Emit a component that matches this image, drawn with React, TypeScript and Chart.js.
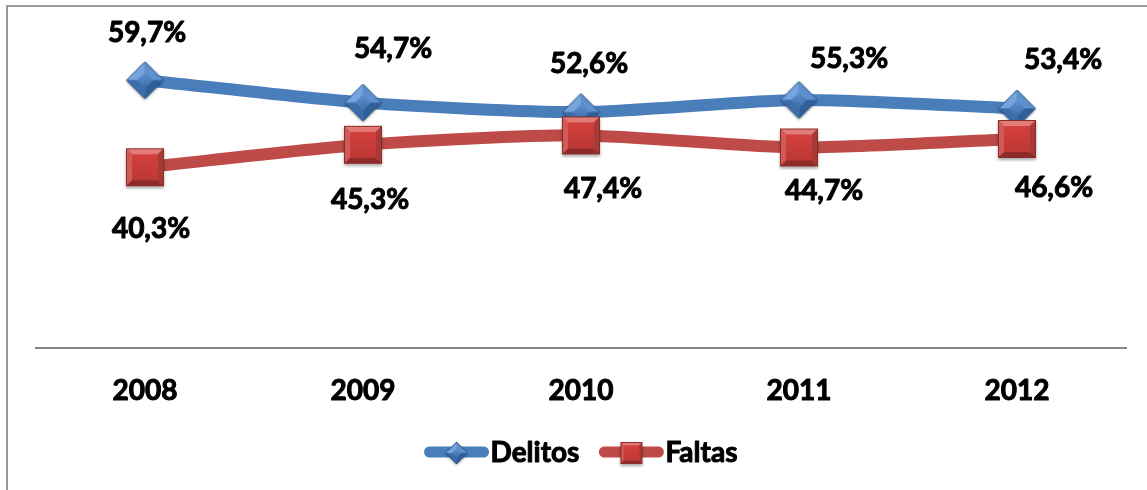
import React, { useEffect, useRef } from 'react';
import { Chart, registerables } from 'chart.js';

Chart.register(...registerables);

const categories = ['2008', '2009', '2010', '2011', '2012'];
const delitos = [59.7, 54.7, 52.6, 55.3, 53.4];
const faltas = [40.3, 45.3, 47.4, 44.7, 46.6];
const seriesNames = ['Delitos', 'Faltas'];
const yMin = 0;
const yMax = 70;

// label placement (pixel offsets from the point, styling only)
const delitosLabelOffsets = [[2, -48], [30, -55], [8, -49], [50, -42], [46, -50]];
const faltasLabelOffsets = [[6, 61], [7, 54], [22, 53], [25, 42], [37, 48]];

const BLUE_LINE = '#4A7EBB';
const RED_LINE = '#BE4B48';
const FONT = 'Lato, "Open Sans", sans-serif';
const FONT_SIZE = 28;
const TEXT_STROKE = 1;

function fmt(v: number) {
  return v.toFixed(1).replace('.', ',') + '%';
}

function boldText(ctx: CanvasRenderingContext2D, text: string, x: number, y: number) {
  ctx.lineWidth = TEXT_STROKE;
  ctx.lineJoin = 'round';
  ctx.strokeStyle = '#000';
  ctx.fillStyle = '#000';
  ctx.strokeText(text, x, y);
  ctx.fillText(text, x, y);
}

function poly(ctx: CanvasRenderingContext2D, pts: number[][], fill: string | CanvasGradient) {
  ctx.beginPath();
  ctx.moveTo(pts[0][0], pts[0][1]);
  for (let i = 1; i < pts.length; i++) ctx.lineTo(pts[i][0], pts[i][1]);
  ctx.closePath();
  ctx.fillStyle = fill;
  ctx.fill();
}

function makeDiamond(r: number): HTMLCanvasElement {
  const pad = 4;
  const size = Math.ceil(2 * r + 2 * pad);
  const c = document.createElement('canvas');
  c.width = size;
  c.height = size;
  const ctx = c.getContext('2d')!;
  const cx = size / 2, cy = size / 2;
  const T = [cx, cy - r], R = [cx + r, cy], B = [cx, cy + r], L = [cx - r, cy];
  ctx.save();
  ctx.shadowColor = 'rgba(0,0,0,0.35)';
  ctx.shadowBlur = 3;
  ctx.shadowOffsetY = 1.5;
  poly(ctx, [T, R, B, L], '#4F81BD');
  ctx.restore();
  const ir = r * 0.42;
  const t = [cx, cy - ir], rr = [cx + ir, cy], b = [cx, cy + ir], l = [cx - ir, cy];
  poly(ctx, [L, T, t, l], '#76A4DC');
  poly(ctx, [T, R, rr, t], '#5E90CE');
  poly(ctx, [R, B, b, rr], '#2F5E98');
  poly(ctx, [B, L, l, b], '#3D6DA9');
  const g = ctx.createLinearGradient(0, cy - ir, 0, cy + ir);
  g.addColorStop(0, '#5F91D0');
  g.addColorStop(1, '#3E6FAD');
  poly(ctx, [t, rr, b, l], g);
  ctx.beginPath();
  ctx.moveTo(T[0], T[1]); ctx.lineTo(R[0], R[1]); ctx.lineTo(B[0], B[1]); ctx.lineTo(L[0], L[1]); ctx.closePath();
  ctx.strokeStyle = '#2B5283';
  ctx.lineWidth = 1;
  ctx.stroke();
  return c;
}

function makeSquare(s: number): HTMLCanvasElement {
  const pad = 4;
  const size = Math.ceil(s + 2 * pad);
  const c = document.createElement('canvas');
  c.width = size;
  c.height = size;
  const ctx = c.getContext('2d')!;
  const x0 = (size - s) / 2, y0 = (size - s) / 2, x1 = x0 + s, y1 = y0 + s;
  ctx.save();
  ctx.shadowColor = 'rgba(0,0,0,0.35)';
  ctx.shadowBlur = 3;
  ctx.shadowOffsetY = 2;
  poly(ctx, [[x0, y0], [x1, y0], [x1, y1], [x0, y1]], '#C0504D');
  ctx.restore();
  const bv = s * 0.16;
  const ix0 = x0 + bv, iy0 = y0 + bv, ix1 = x1 - bv, iy1 = y1 - bv;
  poly(ctx, [[x0, y0], [x1, y0], [ix1, iy0], [ix0, iy0]], '#E27C79');
  poly(ctx, [[x0, y0], [ix0, iy0], [ix0, iy1], [x0, y1]], '#D15956');
  poly(ctx, [[x1, y0], [x1, y1], [ix1, iy1], [ix1, iy0]], '#A83936');
  poly(ctx, [[x0, y1], [ix0, iy1], [ix1, iy1], [x1, y1]], '#8E2B29');
  const g = ctx.createLinearGradient(0, iy0, 0, iy1);
  g.addColorStop(0, '#D4403D');
  g.addColorStop(1, '#BC3835');
  poly(ctx, [[ix0, iy0], [ix1, iy0], [ix1, iy1], [ix0, iy1]], g);
  ctx.strokeStyle = '#8A2C29';
  ctx.lineWidth = 1;
  ctx.strokeRect(x0 + 0.5, y0 + 0.5, s - 1, s - 1);
  return c;
}

export default function App() {
  const ref = useRef<HTMLCanvasElement>(null);

  useEffect(() => {
    const canvas = ref.current;
    if (!canvas) return;
    const diamondBig = makeDiamond(18.5);
    const squareBig = makeSquare(38);
    const diamondSmall = makeDiamond(11);
    const squareSmall = makeSquare(22);

    const labelPlugin = {
      id: 'pointLabels',
      afterDatasetsDraw(chart: any) {
        const ctx = chart.ctx;
        ctx.save();
        ctx.font = `bold ${FONT_SIZE}px ${FONT}`;
        ctx.textAlign = 'center';
        ctx.textBaseline = 'alphabetic';
        const sets = [
          { data: delitos, off: delitosLabelOffsets, idx: 0 },
          { data: faltas, off: faltasLabelOffsets, idx: 1 },
        ];
        sets.forEach((s) => {
          const meta = chart.getDatasetMeta(s.idx);
          meta.data.forEach((pt: any, i: number) => {
            const [dx, dy] = s.off[i];
            boldText(ctx, fmt(s.data[i]), pt.x + dx, pt.y + dy + FONT_SIZE * 0.36);
          });
        });
        // category labels, placed on the category scale
        const xs = chart.scales.x;
        categories.forEach((c, i) => {
          boldText(ctx, c, xs.getPixelForTick(i), xs.top + 52);
        });
        ctx.restore();
      },
    };

    const legendPlugin = {
      id: 'excelLegend',
      afterDraw(chart: any) {
        const ctx = chart.ctx;
        const area = chart.chartArea;
        ctx.save();
        ctx.font = `bold ${FONT_SIZE}px ${FONT}`;
        const lineLen = 64;
        const gap = 20;
        const items = [
          { text: seriesNames[0], color: BLUE_LINE, img: diamondSmall },
          { text: seriesNames[1], color: RED_LINE, img: squareSmall },
        ];
        const widths = items.map((it) => lineLen + 2 + ctx.measureText(it.text).width);
        const total = widths.reduce((a, b) => a + b, 0) + gap * (items.length - 1);
        let x = (area.left + area.right) / 2 - total / 2;
        const y = 452;
        items.forEach((it, i) => {
          ctx.strokeStyle = it.color;
          ctx.lineWidth = 11;
          ctx.lineCap = 'round';
          ctx.beginPath();
          ctx.moveTo(x + 5, y);
          ctx.lineTo(x + lineLen - 5, y);
          ctx.stroke();
          ctx.drawImage(it.img, x + lineLen / 2 - it.img.width / 2, y - it.img.height / 2 + 1);
          ctx.textAlign = 'left';
          ctx.textBaseline = 'alphabetic';
          boldText(ctx, it.text, x + lineLen + 2, y + FONT_SIZE * 0.36);
          x += widths[i] + gap;
        });
        ctx.restore();
      },
    };

    const chart = new Chart(canvas, {
      type: 'line',
      data: {
        labels: categories,
        datasets: [
          {
            label: seriesNames[0],
            data: delitos,
            borderColor: BLUE_LINE,
            backgroundColor: BLUE_LINE,
            borderWidth: 12,
            tension: 0.25,
            borderCapStyle: 'round',
            borderJoinStyle: 'round',
            pointStyle: diamondBig as any,
            pointRadius: 19,
            order: 1,
            clip: false as any,
          },
          {
            label: seriesNames[1],
            data: faltas,
            borderColor: RED_LINE,
            backgroundColor: RED_LINE,
            borderWidth: 12,
            tension: 0.25,
            borderCapStyle: 'round',
            borderJoinStyle: 'round',
            pointStyle: squareBig as any,
            pointRadius: 19,
            order: 0,
            clip: false as any,
          },
        ],
      },
      options: {
        responsive: false,
        animation: false,
        layout: { autoPadding: false, padding: { left: 36, right: 21, top: 34, bottom: 0 } },
        plugins: { legend: { display: false }, tooltip: { enabled: false }, title: { display: false } },
        scales: {
          x: {
            offset: true,
            grid: { display: false, drawTicks: false },
            border: { display: true, color: '#868686', width: 2 },
            ticks: { display: false },
            afterFit: (s: any) => {
              s.height = 142;
            },
          },
          y: {
            display: false,
            min: yMin,
            max: yMax,
          },
        },
      },
      plugins: [labelPlugin, legendPlugin],
    });
    return () => chart.destroy();
  }, []);

  return (
    <div style={{ position: 'fixed', left: 0, top: 0, width: 1147, height: 490, background: '#fff', overflow: 'hidden' }}>
      <div style={{ position: 'absolute', left: 6, top: 5, width: 1300, height: 700, border: '2px solid #999' }} />
      <canvas ref={ref} width={1147} height={490} style={{ position: 'absolute', left: 0, top: 0, width: 1147, height: 490 }} />
    </div>
  );
}
